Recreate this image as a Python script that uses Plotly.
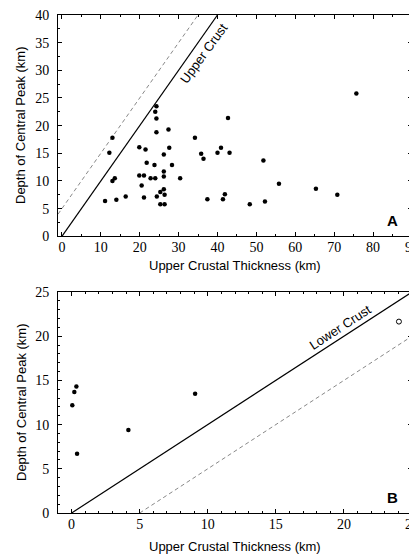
import plotly.graph_objects as go

# ---- Panel A data ----
a_x = [75.7, 24.3, 24.0, 24.3, 42.7, 27.4, 24.3, 13.0, 34.2,
       12.2, 19.9, 21.5, 27.6, 26.2, 21.8, 23.8, 28.3,
       35.8, 36.4, 40.0, 40.9, 43.1, 51.8,
       26.2, 26.2, 13.0, 13.6, 19.9, 21.1, 22.8, 24.0, 30.4,
       20.5, 55.8, 65.3, 70.8, 26.2, 25.3, 26.4, 24.4, 21.1,
       16.4, 14.0, 11.1, 25.3, 26.4, 37.4, 41.4, 41.9, 48.3, 52.2]
a_y = [25.8, 23.5, 22.5, 21.3, 21.4, 19.3, 18.8, 17.8, 17.8,
       15.1, 16.1, 15.7, 16.0, 14.8, 13.3, 12.9, 12.9,
       14.9, 14.0, 15.1, 16.0, 15.1, 13.7,
       11.7, 10.8, 10.0, 10.5, 11.0, 11.0, 10.5, 10.5, 10.5,
       9.2, 9.5, 8.6, 7.5, 8.5, 8.0, 7.5, 7.2, 7.0,
       7.2, 6.6, 6.4, 5.8, 5.8, 6.7, 6.7, 7.6, 5.8, 6.3]

# ---- Panel B data ----
b_x = [0.05, 0.2, 0.35, 9.07, 0.4, 4.17]
b_y = [12.2, 13.7, 14.3, 13.5, 6.7, 9.4]
b_open_x = [24.04]
b_open_y = [21.65]

# reference lines
upper_line_x = [0, 40]
upper_line_y = [0, 40]
upper_dash_x = [-1, 35]
upper_dash_y = [4, 40]
lower_line_x = [0, 25]
lower_line_y = [0, 25]
lower_dash_x = [5, 25]
lower_dash_y = [0, 20]

a_xticks = [0, 10, 20, 30, 40, 50, 60, 70, 80, 90]
a_yticks = [0, 5, 10, 15, 20, 25, 30, 35, 40]
b_xticks = [0, 5, 10, 15, 20, 25]
b_yticks = [0, 5, 10, 15, 20, 25]

x_title = "Upper Crustal Thickness (km)"
y_title = "Depth of Central Peak (km)"

fig = go.Figure()

fig.add_trace(go.Scatter(x=upper_dash_x, y=upper_dash_y, mode="lines",
                         line=dict(color="#888888", width=1, dash="4px,3px"),
                         xaxis="x", yaxis="y", showlegend=False))
fig.add_trace(go.Scatter(x=upper_line_x, y=upper_line_y, mode="lines",
                         line=dict(color="black", width=1.2),
                         xaxis="x", yaxis="y", showlegend=False))
fig.add_trace(go.Scatter(x=a_x, y=a_y, mode="markers",
                         marker=dict(color="black", size=4.5),
                         xaxis="x", yaxis="y", showlegend=False))

fig.add_trace(go.Scatter(x=lower_dash_x, y=lower_dash_y, mode="lines",
                         line=dict(color="#888888", width=1, dash="4px,3px"),
                         xaxis="x2", yaxis="y2", showlegend=False))
fig.add_trace(go.Scatter(x=lower_line_x, y=lower_line_y, mode="lines",
                         line=dict(color="black", width=1.2),
                         xaxis="x2", yaxis="y2", showlegend=False))
fig.add_trace(go.Scatter(x=b_x, y=b_y, mode="markers",
                         marker=dict(color="black", size=4.5),
                         xaxis="x2", yaxis="y2", showlegend=False))
fig.add_trace(go.Scatter(x=b_open_x, y=b_open_y, mode="markers",
                         marker=dict(color="white", size=5, symbol="circle",
                                     line=dict(color="black", width=1)),
                         xaxis="x2", yaxis="y2", showlegend=False))

tickfont = dict(family="'Times New Roman', 'Liberation Serif', serif", size=14, color="black")
titlefont = dict(family="Arial, 'Liberation Sans', sans-serif", size=13, color="black")

def ax(**kw):
    d = dict(showline=True, linecolor="black", linewidth=1, mirror="allticks",
             ticks="inside", ticklen=4, tickwidth=1, tickcolor="black",
             showgrid=False, zeroline=False, tickfont=tickfont,
             automargin=False, fixedrange=True, ticklabeloverflow="allow")
    d.update(kw)
    return d

# page has an 8px body margin; figure sized so that it fits the 417x555 window
W, H = 409, 547
ml, mr, mt, mb = 50, 5, 7, 42
pw, ph = W - ml - mr, H - mt - mb

def px(xp, yp):
    # page pixel position -> paper coordinates
    return (xp - 8 - ml) / pw, (H - mb - (yp - 8)) / ph

ax_pos = px(235, 265)
bx_pos = px(235, 546)
ay_pos = px(21, 125)
by_pos = px(21, 402)

fig.update_layout(
    width=W, height=H,
    margin=dict(l=ml, r=mr, t=mt, b=mb),
    paper_bgcolor="white", plot_bgcolor="white",
    xaxis=ax(range=[-1, 90], tickvals=a_xticks, domain=[0, 1], anchor="y",
             ticklabelstandoff=-2,
             minor=dict(ticks="inside", ticklen=2, dtick=5, tick0=0, tickcolor="black")),
    yaxis=ax(range=[0, 40], tickvals=a_yticks, domain=[0.5556, 1], anchor="x",
             ticklabelstandoff=5,
             minor=dict(ticks="inside", ticklen=2, dtick=2.5, tick0=0, tickcolor="black")),
    xaxis2=ax(range=[-1, 25], tickvals=b_xticks, domain=[0, 1], anchor="y2",
              ticklabelstandoff=-2,
              minor=dict(ticks="inside", ticklen=2, dtick=1, tick0=0, tickcolor="black")),
    yaxis2=ax(range=[0, 25], tickvals=b_yticks, domain=[0, 0.4438], anchor="x2",
              ticklabelstandoff=5,
              minor=dict(ticks="inside", ticklen=2, dtick=1, tick0=0, tickcolor="black")),
    annotations=[
        dict(text="Upper Crust", x=36.5, y=33.0, xref="x", yref="y", showarrow=False,
             textangle=-54, font=titlefont),
        dict(text="Lower Crust", x=19.7, y=21.0, xref="x2", yref="y2", showarrow=False,
             textangle=-33, font=titlefont),
        dict(text="<b>A</b>", x=85.0, y=2.9, xref="x", yref="y", showarrow=False,
             font=dict(family="Arial, 'Liberation Sans', sans-serif", size=15, color="black")),
        dict(text="<b>B</b>", x=23.56, y=1.8, xref="x2", yref="y2", showarrow=False,
             font=dict(family="Arial, 'Liberation Sans', sans-serif", size=15, color="black")),
        dict(text=x_title, x=ax_pos[0], y=ax_pos[1], xref="paper", yref="paper",
             xanchor="center", yanchor="middle", showarrow=False, font=titlefont),
        dict(text=x_title, x=bx_pos[0], y=bx_pos[1], xref="paper", yref="paper",
             xanchor="center", yanchor="middle", showarrow=False, font=titlefont),
        dict(text=y_title, x=ay_pos[0], y=ay_pos[1], xref="paper", yref="paper",
             xanchor="center", yanchor="middle", textangle=-90, showarrow=False,
             font=titlefont),
        dict(text=y_title, x=by_pos[0], y=by_pos[1], xref="paper", yref="paper",
             xanchor="center", yanchor="middle", textangle=-90, showarrow=False,
             font=titlefont),
    ],
)

fig.write_html("out.html")
